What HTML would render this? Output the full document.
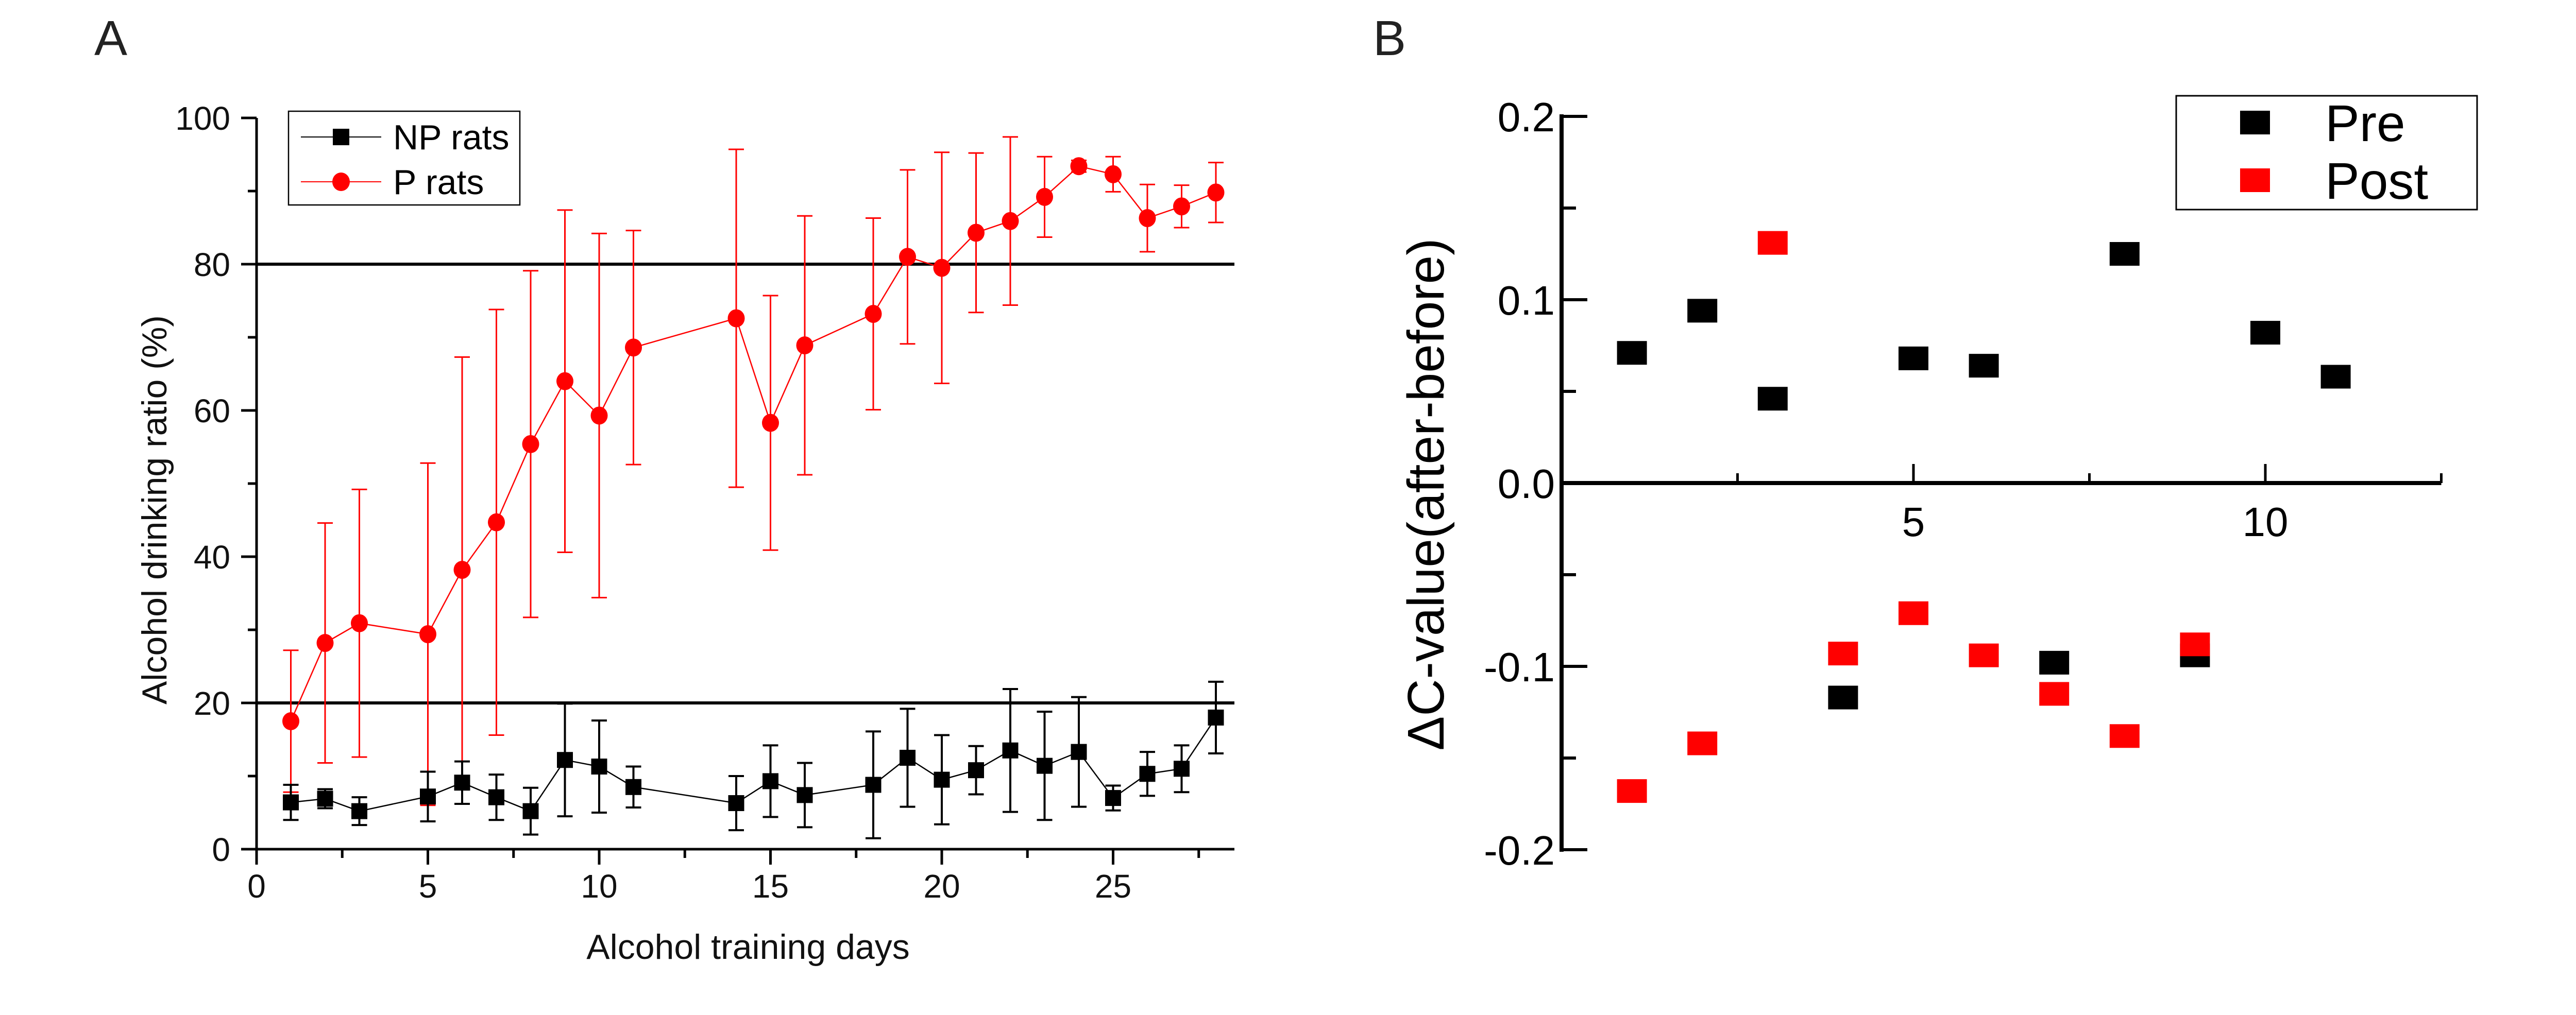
<!DOCTYPE html>
<html><head><meta charset="utf-8"><style>
html,body{margin:0;padding:0;background:#fff}
svg{display:block;font-family:"Liberation Sans",Arial,sans-serif}
</style></head><body>
<svg id="fig" width="5089" height="1971" viewBox="0 0 5089 1971" xmlns="http://www.w3.org/2000/svg">
<rect width="5089" height="1971" fill="#fff"/>
<text x="183" y="107" font-size="96" fill="#222">A</text>
<text x="2665" y="107" font-size="96" fill="#222">B</text>
<g id="pa"></g>
<g id="pb"></g>
</svg>
<script>
// Panel A data
const daysA = [1,2,3,5,6,7,8,9,10,11,14,15,16,18,19,20,21,22,23,24,25,26,27,28];
const pMean = [17.5,28.2,30.9,29.4,38.2,44.7,55.4,64.0,59.3,68.6,72.6,58.3,68.9,73.2,81.0,79.5,84.3,85.9,89.2,93.4,92.3,86.3,87.9,89.8];
const pErr  = [9.7,16.4,18.3,23.4,29.1,29.1,23.7,23.4,24.9,16.0,23.1,17.4,17.7,13.1,11.9,15.8,10.9,11.5,5.5,0.8,2.4,4.6,2.9,4.1];
const npMean = [6.4,6.9,5.2,7.2,9.1,7.1,5.2,12.2,11.3,8.5,6.3,9.3,7.4,8.8,12.5,9.5,10.8,13.5,11.4,13.3,7.0,10.3,11.0,18.0];
const npErr  = [2.4,1.3,1.9,3.4,2.9,3.1,3.2,7.7,6.3,2.8,3.7,4.9,4.4,7.3,6.7,6.1,3.3,8.4,7.4,7.5,1.7,3.0,3.2,4.9];
const yTicksA = [0,20,40,60,80,100];
const xTicksA = [0,5,10,15,20,25];
const refLinesA = [20,80];
// Panel B data
const idxB = [1,2,3,4,5,6,7,8,9,10,11];
const preVals = [0.071,0.094,0.046,-0.117,0.068,0.064,-0.098,0.125,-0.094,0.082,0.058];
const postX = [1,2,3,4,5,6,7,8,9];
const postVals = [-0.168,-0.142,0.131,-0.093,-0.071,-0.094,-0.115,-0.138,-0.088];
const yTicksB = [-0.2,-0.1,0.0,0.1,0.2];
const xTicksB = [5,10];

const NS="http://www.w3.org/2000/svg";
function mk(parent,tag,attrs,text){const e=document.createElementNS(NS,tag);for(const k in attrs)e.setAttribute(k,attrs[k]);if(text!==undefined)e.textContent=text;parent.appendChild(e);return e;}

// ---------- Panel A ----------
const pa=document.getElementById('pa');
const ax0=498, ax1=2396, ay0=1649, ay100=229;
const xA=v=>ax0+v*66.5;
const yA=v=>ay0+(ay100-ay0)*v/100;
let e=mk(pa,'line',{x1:ax0,y1:ay100,x2:ax0,y2:ay0,stroke:'#000','stroke-width':5});


e=mk(pa,'line',{x1:ax0-2,y1:ay0,x2:ax1,y2:ay0,stroke:'#000','stroke-width':5});


for(let v=0;v<=100;v+=10){
  const major=v%20===0;
  e=mk(pa,'line',{x1:ax0-(major?30:17),y1:yA(v),x2:ax0,y2:yA(v),stroke:'#000','stroke-width':5});
  
  
}
yTicksA.forEach(v=>{
  e=mk(pa,'text',{x:447,y:yA(v)+23,'font-size':64,'text-anchor':'end',fill:'#111'},String(v));
  
  
});
for(let v=0;v<=28.5;v+=2.5){
  const major=v%5===0;
  e=mk(pa,'line',{x1:xA(v),y1:ay0,x2:xA(v),y2:ay0+(major?30:17),stroke:'#000','stroke-width':5});
  
  
}
xTicksA.forEach(v=>{
  e=mk(pa,'text',{x:xA(v),y:1743,'font-size':64,'text-anchor':'middle',fill:'#111'},String(v));
  
  
});
refLinesA.forEach(v=>{
  e=mk(pa,'line',{x1:ax0,y1:yA(v),x2:ax1,y2:yA(v),stroke:'#000','stroke-width':6});
  
  
});
e=mk(pa,'text',{x:0,y:0,'font-size':68,'text-anchor':'middle',fill:'#111',transform:'translate(323,990) rotate(-90)'},'Alcohol drinking ratio (%)');


e=mk(pa,'text',{x:1452,y:1862,'font-size':68,'text-anchor':'middle',fill:'#111'},'Alcohol training days');



function series(means,errs,color,kind,name){
  const g=mk(pa,'g',{});
  
  
  const pts=daysA.map((d,i)=>xA(d)+','+yA(means[i])).join(' ');
  e=mk(g,'polyline',{points:pts,fill:'none',stroke:color,'stroke-width':2.5});
  
  
  daysA.forEach((d,i)=>{
    const x=xA(d),yt=yA(means[i]+errs[i]),yb=yA(means[i]-errs[i]);
    e=mk(g,'path',{d:`M${x},${yt}V${yb}M${x-15},${yt}H${x+15}M${x-15},${yb}H${x+15}`,stroke:color,'stroke-width':kind==='sq'?4:3,fill:'none'});
    
    
  });
  daysA.forEach((d,i)=>{
    const x=xA(d),y=yA(means[i]);
    if(kind==='sq') e=mk(g,'rect',{x:x-15.5,y:y-15.5,width:31,height:31,fill:color});
    else e=mk(g,'ellipse',{cx:x,cy:y,rx:16.5,ry:17.5,fill:color});
    
    
  });
}
series(pMean,pErr,'#ff0000','circ','p-rats');
series(npMean,npErr,'#000','sq','np-rats');

const lg=mk(pa,'g',{});


e=mk(lg,'rect',{x:560,y:216,width:449,height:182,fill:'#fff',stroke:'#000','stroke-width':2.5});


e=mk(lg,'line',{x1:584,y1:266,x2:740,y2:266,stroke:'#000','stroke-width':2});


e=mk(lg,'rect',{x:646,y:250,width:32,height:32,fill:'#000'});


e=mk(lg,'text',{x:763,y:290,'font-size':68,fill:'#000'},'NP rats');


e=mk(lg,'line',{x1:584,y1:353,x2:740,y2:353,stroke:'#f00','stroke-width':2});


e=mk(lg,'ellipse',{cx:662,cy:353,rx:17,ry:18,fill:'#f00'});


e=mk(lg,'text',{x:763,y:377,'font-size':68,fill:'#000'},'P rats');



// ---------- Panel B ----------
const pb=document.getElementById('pb');
const bx0=3031, bunit=136.6, by0=938, bper=3560;
const xB=v=>bx0+v*bunit;
const yB=v=>by0-v*bper;
e=mk(pb,'line',{x1:bx0,y1:yB(0.2)-4,x2:bx0,y2:yB(-0.2)+4,stroke:'#000','stroke-width':8});


e=mk(pb,'line',{x1:bx0,y1:by0,x2:xB(12.5),y2:by0,stroke:'#000','stroke-width':8});


for(let k=-4;k<=4;k++){
  const v=k*0.05, major=k%2===0;
  e=mk(pb,'line',{x1:bx0,y1:yB(v),x2:bx0+(major?50:28),y2:yB(v),stroke:'#000','stroke-width':6});
  
  
}
yTicksB.forEach(v=>{
  e=mk(pb,'text',{x:3018,y:yB(v)+29,'font-size':80,'text-anchor':'end',fill:'#000'},v.toFixed(1));
  
  
});
for(let v=2.5;v<=12.5;v+=2.5){
  const major=v%5===0;
  e=mk(pb,'line',{x1:xB(v),y1:by0,x2:xB(v),y2:by0-(major?37:19),stroke:'#000','stroke-width':5});
  
  
}
xTicksB.forEach(v=>{
  e=mk(pb,'text',{x:xB(v),y:1041,'font-size':80,'text-anchor':'middle',fill:'#000'},String(v));
  
  
});
e=mk(pb,'text',{x:0,y:0,'font-size':100,'text-anchor':'middle',fill:'#000',transform:'translate(2802,960) rotate(-90)'},'\u0394C-value(after-before)');


idxB.forEach((d,i)=>{
  e=mk(pb,'rect',{x:xB(d)-29,y:yB(preVals[i])-23,width:58,height:46,fill:'#000'});
  
  
});
postX.forEach((d,i)=>{
  e=mk(pb,'rect',{x:xB(d)-29,y:yB(postVals[i])-23,width:58,height:46,fill:'#ff0000'});
  
  
});
const lb=mk(pb,'g',{});


e=mk(lb,'rect',{x:4224,y:186,width:584,height:221,fill:'#fff',stroke:'#000','stroke-width':3});


e=mk(lb,'rect',{x:4348,y:215,width:58,height:46,fill:'#000'});


e=mk(lb,'text',{x:4513,y:274,'font-size':100,fill:'#000'},'Pre');


e=mk(lb,'rect',{x:4348,y:327,width:58,height:46,fill:'#ff0000'});


e=mk(lb,'text',{x:4513,y:386,'font-size':100,fill:'#000'},'Post');


</script>
</body></html>
